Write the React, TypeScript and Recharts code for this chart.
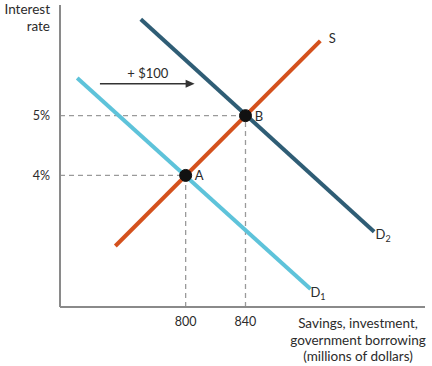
import React from 'react';
import { ComposedChart, Line, XAxis, YAxis, ReferenceLine, ReferenceDot } from 'recharts';

const supplyS = [
  { x: 753, y: 2.82 },
  { x: 890, y: 6.25 },
];
const demandD1 = [
  { x: 727.5, y: 5.63 },
  { x: 883.5, y: 2.1 },
];
const demandD2 = [
  { x: 770, y: 6.61 },
  { x: 926, y: 3.06 },
];
const equilibria = [
  { name: 'A', x: 800, y: 4 },
  { name: 'B', x: 840, y: 5 },
];
const xTicks = [800, 840];
const yTicks = [4, 5];
const yTickLabels = ['4%', '5%'];
const curveLabels = [
  { text: 'S', sub: '', x: 898, y: 6.3 },
  { text: 'D', sub: '2', x: 932, y: 3.02 },
  { text: 'D', sub: '1', x: 888.5, y: 2.05 },
];
const shiftArrow = { from: 742.7, to: 806, y: 5.533, text: '+ $100', textX: 774.7, textY: 5.72 };

const X_DOMAIN = [716, 960];
const Y_DOMAIN = [1.8, 6.85];
const FONT = 'Lato, "Open Sans", sans-serif';
const TEXT = '#2b2b2b';
const DASH = '#9a9a9a';

const TextShape = (props: any) => {
  const { cx, cy, text, sub, anchor } = props;
  return (
    <text x={cx} y={cy} textAnchor={anchor || 'middle'} dominantBaseline="central" fontFamily={FONT} fontSize={13} fill={TEXT}>
      {text}
      {sub ? (
        <tspan fontSize={9} dy={4}>
          {sub}
        </tspan>
      ) : null}
    </text>
  );
};

const ArrowHead = (props: any) => {
  const { cx, cy } = props;
  return <polygon points={`${cx},${cy} ${cx - 9},${cy - 4} ${cx - 9},${cy + 4}`} fill="#333" />;
};

const XLabel = (props: any) => {
  const vb = props.viewBox || {};
  const cx = 358;
  const y0 = vb.y != null ? vb.y : 307;
  const lines = ['Savings, investment,', 'government borrowing', '(millions of dollars)'];
  return (
    <g>
      {lines.map((l, i) => (
        <text key={i} x={cx} y={y0 + 16 + i * 16.6} textAnchor="middle" dominantBaseline="central" fontFamily={FONT} fontSize={13.5} fill={TEXT}>
          {l}
        </text>
      ))}
    </g>
  );
};

const YLabel = () => (
  <g>
    <text x={50} y={9} textAnchor="end" dominantBaseline="central" fontFamily={FONT} fontSize={13.5} fill={TEXT}>
      Interest
    </text>
    <text x={50} y={25.5} textAnchor="end" dominantBaseline="central" fontFamily={FONT} fontSize={13.5} fill={TEXT}>
      rate
    </text>
  </g>
);

export default function App() {
  return (
    <div style={{ position: 'absolute', left: 0, top: 0, background: '#fff' }}>
      <ComposedChart width={432} height={366} margin={{ top: 5, right: 7, bottom: 29, left: 0 }}>
        <XAxis
          type="number"
          dataKey="x"
          domain={X_DOMAIN}
          ticks={xTicks}
          allowDataOverflow
          height={30}
          tickLine={false}
          axisLine={{ stroke: '#8a8a8a', strokeWidth: 2 }}
          tick={{ fontFamily: FONT, fontSize: 12.5, fill: TEXT }}
          tickMargin={4}
          label={<XLabel />}
        />
        <YAxis
          type="number"
          dataKey="y"
          domain={Y_DOMAIN}
          ticks={yTicks}
          allowDataOverflow
          width={60}
          tickLine={false}
          axisLine={{ stroke: '#8a8a8a', strokeWidth: 2 }}
          tick={{ fontFamily: FONT, fontSize: 12.5, fill: TEXT }}
          tickFormatter={(v: number) => yTickLabels[yTicks.indexOf(v)] ?? ''}
          tickMargin={4}
          label={<YLabel />}
        />
        {equilibria.map((e) => (
          <ReferenceLine
            key={'h' + e.name}
            segment={[{ x: X_DOMAIN[0], y: e.y }, { x: e.x, y: e.y }]}
            stroke={DASH}
            strokeWidth={1.3}
            strokeDasharray="5 4"
          />
        ))}
        {equilibria.map((e) => (
          <ReferenceLine
            key={'v' + e.name}
            segment={[{ x: e.x, y: Y_DOMAIN[0] }, { x: e.x, y: e.y }]}
            stroke={DASH}
            strokeWidth={1.3}
            strokeDasharray="5 4"
          />
        ))}
        <Line data={demandD1} dataKey="y" stroke="#5ec3da" strokeWidth={4} dot={false} isAnimationActive={false} />
        <Line data={demandD2} dataKey="y" stroke="#2f5d75" strokeWidth={4} dot={false} isAnimationActive={false} />
        <Line data={supplyS} dataKey="y" stroke="#d4511d" strokeWidth={4} dot={false} isAnimationActive={false} />
        {equilibria.map((e) => (
          <ReferenceDot key={'d' + e.name} x={e.x} y={e.y} r={6} fill="#111" stroke="#111" />
        ))}
        {equilibria.map((e) => (
          <ReferenceDot
            key={'t' + e.name}
            x={e.x + 9}
            y={e.y}
            r={0}
            shape={(p: any) => <TextShape {...p} text={e.name} anchor="middle" />}
          />
        ))}
        {curveLabels.map((c, i) => (
          <ReferenceDot
            key={'c' + i}
            x={c.x}
            y={c.y}
            r={0}
            ifOverflow="visible"
            shape={(p: any) => <TextShape {...p} text={c.text} sub={c.sub} />}
          />
        ))}
        <ReferenceLine
          segment={[{ x: shiftArrow.from, y: shiftArrow.y }, { x: shiftArrow.to - 5, y: shiftArrow.y }]}
          stroke="#333"
          strokeWidth={1.5}
        />
        <ReferenceDot x={shiftArrow.to} y={shiftArrow.y} r={0} shape={(p: any) => <ArrowHead {...p} />} />
        <ReferenceDot
          x={shiftArrow.textX}
          y={shiftArrow.textY}
          r={0}
          shape={(p: any) => <TextShape {...p} text={shiftArrow.text} />}
        />
      </ComposedChart>
    </div>
  );
}
